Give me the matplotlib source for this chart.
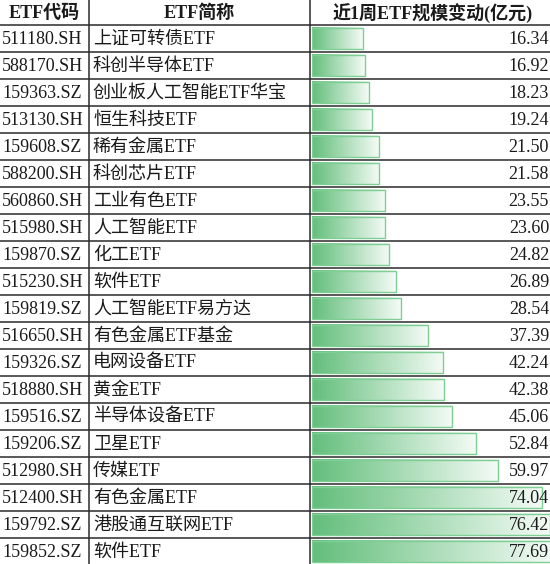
import numpy as np
import matplotlib
matplotlib.use("Agg")
import matplotlib.pyplot as plt
from matplotlib.colors import LinearSegmentedColormap
from matplotlib.patches import Rectangle

codes = ['511180.SH', '588170.SH', '159363.SZ', '513130.SH', '159608.SZ',
         '588200.SH', '560860.SH', '515980.SH', '159870.SZ', '515230.SH',
         '159819.SZ', '516650.SH', '159326.SZ', '518880.SH', '159516.SZ',
         '159206.SZ', '512980.SH', '512400.SH', '159792.SZ', '159852.SZ']
names = ['上证可转债ETF', '科创半导体ETF', '创业板人工智能ETF华宝', '恒生科技ETF',
         '稀有金属ETF', '科创芯片ETF', '工业有色ETF', '人工智能ETF', '化工ETF',
         '软件ETF', '人工智能ETF易方达', '有色金属ETF基金', '电网设备ETF', '黄金ETF',
         '半导体设备ETF', '卫星ETF', '传媒ETF', '有色金属ETF', '港股通互联网ETF', '软件ETF']
values = [16.34, 16.92, 18.23, 19.24, 21.50, 21.58, 23.55, 23.60, 24.82, 26.89,
          28.54, 37.39, 42.24, 42.38, 45.06, 52.84, 59.97, 74.04, 76.42, 77.69]
headers = ['ETF代码', 'ETF简称', '近1周ETF规模变动(亿元)']

fam = ['Liberation Serif', 'Noto Sans CJK SC']
fs = 13
txt = '#1a1a1a'
W, H = 550, 564
head_h, row_h = 25, 27
col_x = [0, 89, 310, 556]   # column borders in pixels (last one is off-canvas)

fig = plt.figure(figsize=(W / 100, H / 100), dpi=100)
ax = fig.add_axes([0, 0, 1, 1])
ax.set_xlim(0, W)
ax.set_ylim(H, 0)
ax.axis('off')
ax.set_zorder(2)

# grid lines
n = len(codes)
for k in range(n + 1):
    y = head_h + k * row_h
    ax.plot([0, W], [y, y], color='#2b2b2b', lw=1.1, solid_capstyle='butt')
for x in col_x[1:3]:
    ax.plot([x, x], [0, H], color='#2b2b2b', lw=1.1, solid_capstyle='butt')

# header
for j, h in enumerate(headers):
    cx = (col_x[j] + col_x[j + 1]) / 2
    ax.text(cx, head_h / 2 + 1, h, ha='center', va='center', fontsize=fs,
            fontweight='bold', family=fam, color=txt)

# body text
for i in range(n):
    yc = head_h + (i + 0.5) * row_h + 1
    ax.text(2, yc, codes[i], ha='left', va='center', fontsize=fs, family=fam, color=txt)
    ax.text(col_x[1] + 4, yc, names[i], ha='left', va='center', fontsize=fs, family=fam, color=txt)
    ax.text(549, yc, f'{values[i]:.2f}', ha='right', va='center', fontsize=fs,
            family=fam, color=txt)

# data bars in their own axes (value scale), drawn below the table layer
bar_l, bar_r = 312, 553.5
bx = fig.add_axes([bar_l / W, 1 - (head_h + n * row_h) / H,
                   (bar_r - bar_l) / W, n * row_h / H])
bx.set_zorder(1)
bx.axis('off')

cmap = LinearSegmentedColormap.from_list('bar', ['#63BE7B', '#F4FBF6'])
grad = np.linspace(0, 1, 256).reshape(1, -1)
bh = 0.78
for i, v in enumerate(values):
    bx.imshow(grad, cmap=cmap, aspect='auto', extent=(0, v, i + bh / 2, i - bh / 2),
              interpolation='bilinear', zorder=1)
    bx.add_patch(Rectangle((0, i - bh / 2), v, bh, fill=False,
                           edgecolor='#7FCF95', lw=1.0, zorder=2))
bx.set_xlim(0, max(values))
bx.set_ylim(n - 0.5, -0.5)

fig.savefig('out.png', dpi=100)
